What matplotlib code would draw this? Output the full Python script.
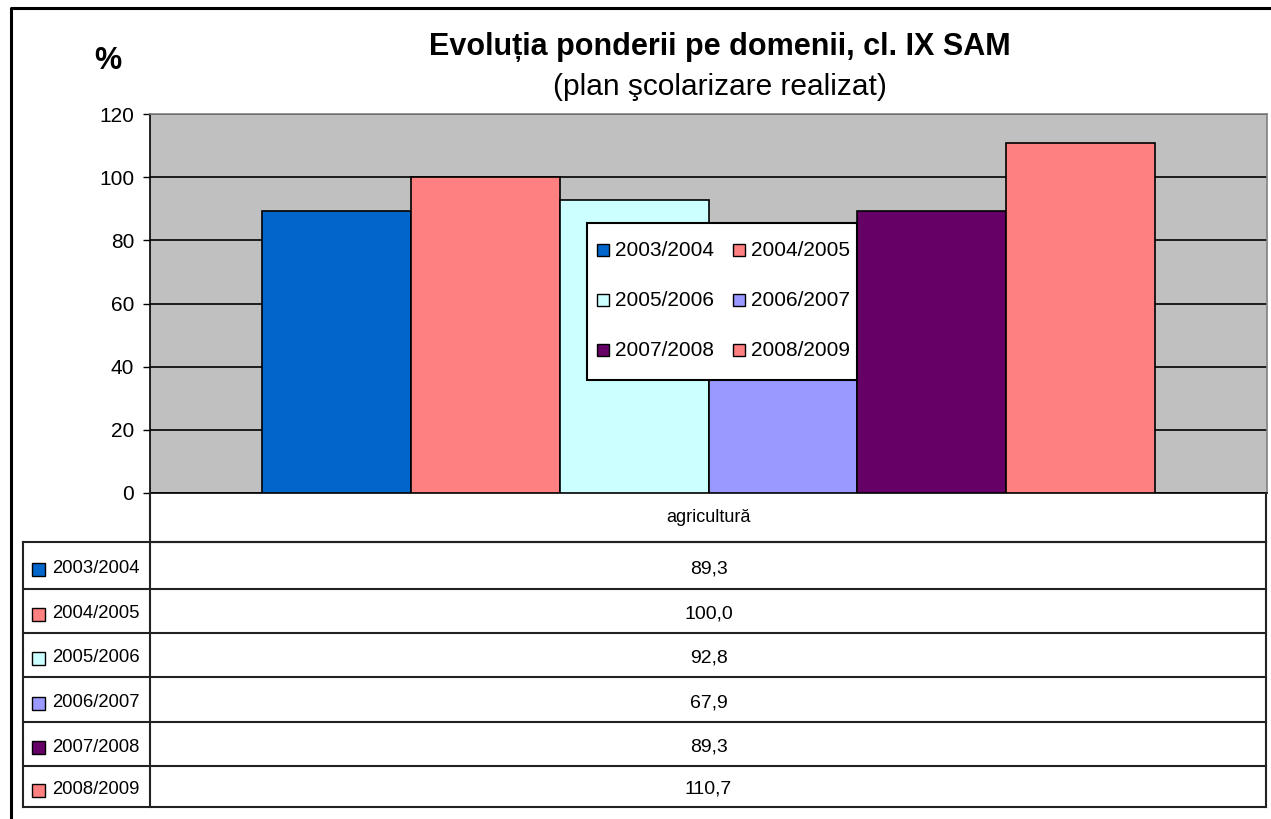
import matplotlib
matplotlib.use("Agg")
import matplotlib.pyplot as plt
from matplotlib.patches import Rectangle
from matplotlib.lines import Line2D

plt.rcParams['font.family'] = ['Liberation Sans', 'DejaVu Sans']

# ---- data ----
category = "agricultură"
series_labels = ["2003/2004", "2004/2005", "2005/2006", "2006/2007", "2007/2008", "2008/2009"]
values = [89.3, 100.0, 92.8, 67.9, 89.3, 110.7]
colors = ["#0066CC", "#FF8080", "#CCFFFF", "#9999FF", "#660066", "#FF8080"]
yticks = [0, 20, 40, 60, 80, 100, 120]
title = "Evoluția ponderii pe domenii, cl. IX SAM"
subtitle = "(plan şcolarizare realizat)"

W, H = 1271, 819
fig = plt.figure(figsize=(W / 100, H / 100), dpi=100)
fig.patch.set_facecolor("white")

def fx(px):
    return px / W

def fy(py):
    return 1 - py / H

# plot area
L, R, T, B = 150, 1267, 114, 493
ax = fig.add_axes([fx(L), fy(B), fx(R - L), (B - T) / H])
ax.set_facecolor("#C0C0C0")
ax.set_xlim(-0.5, 0.5)
ax.set_ylim(0, 120)
ax.set_yticks(yticks)
ax.set_yticklabels([str(v) for v in yticks], fontsize=15)
ax.set_xticks([])
ax.yaxis.grid(True, color="black", linewidth=1.2, zorder=0)
ax.set_axisbelow(True)
ax.tick_params(axis="y", length=5, width=1, color="black", pad=6.5)
for s in ["top", "right"]:
    ax.spines[s].set_color("#808080")
    ax.spines[s].set_linewidth(1.2)
ax.spines["left"].set_color("black")
ax.spines["left"].set_linewidth(1.2)
ax.spines["bottom"].set_color("black")
ax.spines["bottom"].set_linewidth(1.2)

n = len(values)
bw = 1 / (n + 1.5)
for i, (v, c) in enumerate(zip(values, colors)):
    ax.bar((i - (n - 1) / 2) * bw, v, width=bw, color=c, edgecolor="black",
           linewidth=1.2, zorder=3)

# titles
fig.text(fx(720), fy(47), title, ha="center", va="center", fontsize=22, fontweight="bold")
fig.text(fx(720), fy(87), subtitle, ha="center", va="center", fontsize=21.5)
fig.text(fx(108), fy(61), "%", ha="center", va="center", fontsize=22, fontweight="bold")

# outer frame (cropped on right/bottom)
fig.add_artist(Line2D([fx(11), fx(11), fx(W)], [0, fy(8), fy(8)], color="black",
                      linewidth=2.2, transform=fig.transFigure))

# legend box
lg = Rectangle((fx(587), fy(380)), fx(857 - 587), (380 - 223) / H, transform=fig.transFigure,
               facecolor="white", edgecolor="black", linewidth=1.5, zorder=10)
fig.add_artist(lg)
col_x = [597, 733]
row_y = [250, 300, 350]
for i, (lab, c) in enumerate(zip(series_labels, colors)):
    cx = col_x[i % 2]
    cy = row_y[i // 2]
    sq = Rectangle((fx(cx), fy(cy + 6)), fx(12), 12 / H, transform=fig.transFigure,
                   facecolor=c, edgecolor="black", linewidth=1, zorder=11)
    fig.add_artist(sq)
    fig.text(fx(cx + 18), fy(cy), lab, ha="left", va="center", fontsize=15, zorder=12)

# data table
lc = "#222222"
row_lines = [542, 589, 633, 677, 722, 766, 807]
def hline(x0, x1, y, lw=1.5):
    fig.add_artist(Line2D([fx(x0), fx(x1)], [fy(y), fy(y)], color=lc, linewidth=lw,
                          transform=fig.transFigure))
def vline(x, y0, y1, lw=1.5):
    fig.add_artist(Line2D([fx(x), fx(x)], [fy(y0), fy(y1)], color=lc, linewidth=lw,
                          transform=fig.transFigure))

vline(L, B, row_lines[-1])
vline(R - 1, B, row_lines[-1])
hline(L, R - 1, row_lines[0])
for y in row_lines:
    hline(23, R - 1, y)
vline(23, row_lines[0], row_lines[-1])

fig.text(fx((L + R) / 2), fy(518), category, ha="center", va="center", fontsize=13)
for i, (lab, c, v) in enumerate(zip(series_labels, colors, values)):
    y0, y1 = row_lines[i], row_lines[i + 1]
    cy = (y0 + y1) / 2 + 3
    sq = Rectangle((fx(32), fy(cy + 7)), fx(13), 13 / H, transform=fig.transFigure,
                   facecolor=c, edgecolor="black", linewidth=1)
    fig.add_artist(sq)
    fig.text(fx(52), fy(cy), lab, ha="left", va="center", fontsize=13.3)
    fig.text(fx((L + R) / 2), fy(cy), f"{v:.1f}".replace(".", ","), ha="center",
             va="center", fontsize=14)

fig.savefig("out.png", dpi=100)
